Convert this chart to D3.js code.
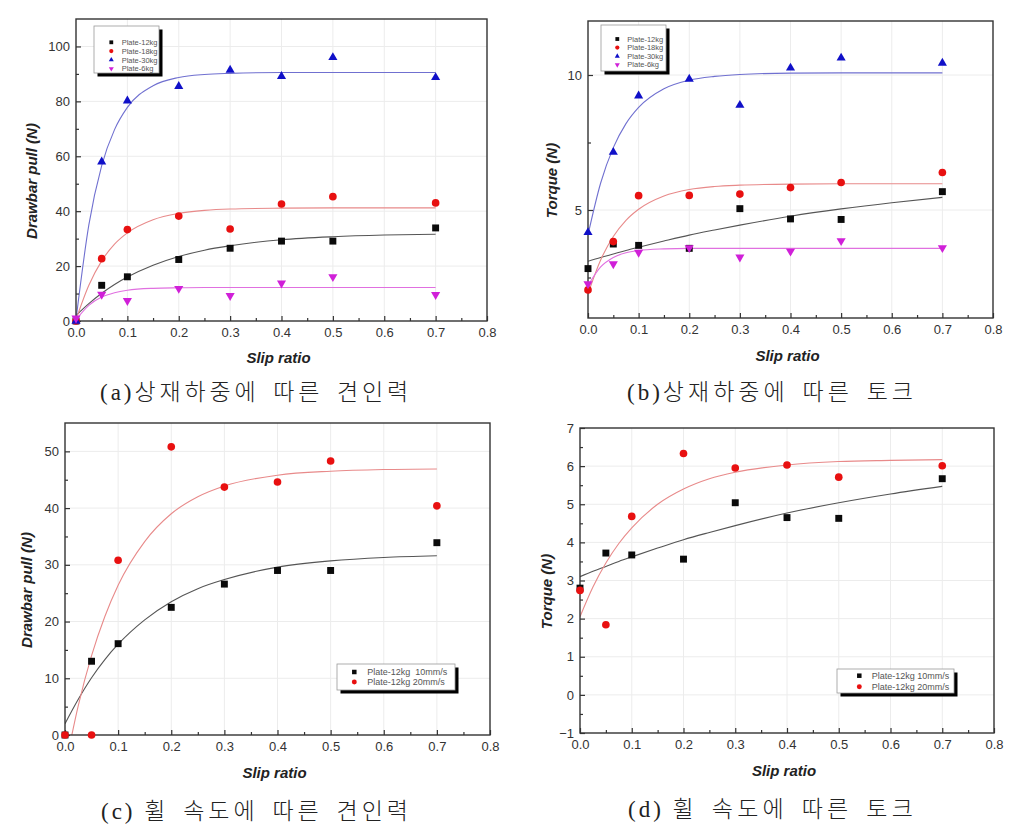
<!DOCTYPE html>
<html><head><meta charset="utf-8">
<script src="https://cdn.jsdelivr.net/npm/d3@7"></script>
<style>body{margin:0;background:#fff}</style>
</head><body><svg id="chart" width="1018" height="834"></svg>
<script>
// ---------- data ----------
const slip = [0, 0.05, 0.1, 0.2, 0.3, 0.4, 0.5, 0.7];
const fitSlip = [0, 0.025, 0.05, 0.075, 0.1, 0.15, 0.2, 0.25, 0.3, 0.4, 0.5, 0.6, 0.7];

const xMajorTicks = [0, 0.1, 0.2, 0.3, 0.4, 0.5, 0.6, 0.7, 0.8];
const xMinorTicks = [0.05, 0.15, 0.25, 0.35, 0.45, 0.55, 0.65, 0.75];

// (a) drawbar pull by load
const aPlate12 = [0, 13.0, 16.1, 22.4, 26.5, 29.1, 29.1, 33.9];
const aPlate18 = [0, 22.7, 33.3, 38.2, 33.5, 42.6, 45.3, 43.0];
const aPlate30 = [0, 58.0, 80.2, 85.5, 91.4, 89.1, 96.0, 88.7];
const aPlate6  = [1.0, 9.7, 7.4, 11.8, 9.2, 13.8, 16.1, 9.6];
const aFit12 = [2.0, 6.3, 10.1, 13.3, 16.0, 20.3, 23.5, 25.8, 27.4, 29.6, 30.7, 31.3, 31.6];
const aFit18 = [0.5, 13.0, 21.9, 28.0, 32.1, 36.9, 39.2, 40.3, 40.8, 41.1, 41.2, 41.2, 41.2];
const aFit30 = [0.5, 35.0, 56.6, 69.7, 77.8, 85.7, 88.7, 89.8, 90.2, 90.5, 90.5, 90.5, 90.5];
const aFit6  = [0.5, 5.7, 8.7, 10.3, 11.2, 11.9, 12.1, 12.2, 12.2, 12.2, 12.2, 12.2, 12.2];
const aYTicks = [0, 20, 40, 60, 80, 100];
const aYMinor = [10, 30, 50, 70, 90];

// (b) torque by load
const bPlate12 = [2.83, 3.74, 3.69, 3.58, 5.05, 4.67, 4.65, 5.68];
const bPlate18 = [2.04, 3.83, 5.53, 5.54, 5.59, 5.83, 6.02, 6.39];
const bPlate30 = [4.17, 7.14, 9.23, 9.85, 8.88, 10.26, 10.63, 10.44];
const bPlate6  = [2.26, 3.0, 3.43, 3.6, 3.25, 3.47, 3.86, 3.6];
const bFit12 = [3.1, 3.24, 3.37, 3.50, 3.62, 3.85, 4.07, 4.26, 4.44, 4.77, 5.04, 5.27, 5.47];
const bFit18 = [1.9, 3.15, 4.02, 4.62, 5.03, 5.52, 5.76, 5.87, 5.92, 5.96, 5.97, 5.97, 5.97];
const bFit30 = [4.08, 6.0, 7.31, 8.2, 8.8, 9.49, 9.81, 9.95, 10.02, 10.07, 10.08, 10.08, 10.08];
const bFit6  = [2.2, 2.89, 3.24, 3.42, 3.5, 3.56, 3.58, 3.58, 3.58, 3.58, 3.58, 3.58, 3.58];
const bYTicks = [5, 10];
const bYMinor = [2.5, 7.5];

// (c) drawbar pull by wheel speed
const cSpeed10 = [0, 13.0, 16.1, 22.5, 26.6, 29.0, 29.0, 33.9];
const cSpeed20 = [0, 0, 30.8, 50.8, 43.7, 44.6, 48.3, 40.4];
const cFit10 = [2.0, 6.3, 10.1, 13.3, 16.0, 20.3, 23.5, 25.8, 27.4, 29.6, 30.7, 31.3, 31.6];
const cFit20 = [-5.9, 5.2, 14.0, 20.9, 26.4, 34.1, 39.0, 42.0, 43.9, 45.8, 46.5, 46.8, 46.9];
const cYTicks = [0, 10, 20, 30, 40, 50];
const cYMinor = [5, 15, 25, 35, 45];

// (d) torque by wheel speed
const dSpeed10 = [2.8, 3.72, 3.67, 3.56, 5.04, 4.65, 4.63, 5.67];
const dSpeed20 = [2.74, 1.84, 4.68, 6.33, 5.95, 6.03, 5.71, 6.01];
const dFit10 = [3.1, 3.24, 3.37, 3.50, 3.62, 3.85, 4.07, 4.26, 4.44, 4.77, 5.04, 5.27, 5.47];
const dFit20 = [2.05, 2.83, 3.46, 3.97, 4.38, 5.0, 5.40, 5.67, 5.84, 6.03, 6.12, 6.15, 6.17];
const dYTicks = [-1, 0, 1, 2, 3, 4, 5, 6, 7];
const dYMinor = [-0.5, 0.5, 1.5, 2.5, 3.5, 4.5, 5.5, 6.5];

const loadNames = ["Plate-12kg", "Plate-18kg", "Plate-30kg", "Plate-6kg"];
const speedNames = ["Plate-12kg  10mm/s", "Plate-12kg 20mm/s"];
const captionPrefixes = ["(a)", "(b)", "(c) ", "(d) "];
const captionTexts = ["상재하중에 따른 견인력", "상재하중에 따른 토크", "휠 속도에 따른 견인력", "휠 속도에 따른 토크"];
const xTitle = "Slip ratio";
const yTitles = ["Drawbar pull (N)", "Torque (N)", "Drawbar pull (N)", "Torque (N)"];

// ---------- styles ----------
const ST = {
  black:   {fill: "#0a0a0a", line: "#555555", sym: "square"},
  red:     {fill: "#e81010", line: "#e88a8a", sym: "circle"},
  blue:    {fill: "#1010c8", line: "#7070d0", sym: "up"},
  magenta: {fill: "#d020d8", line: "#e070e0", sym: "down"}
};

const panels = [
  {left: 76, right: 487, top: 19, bottom: 321, yDomain: [0, 110], yTicks: aYTicks, yMinor: aYMinor,
   series: [[aPlate12, aFit12, ST.black], [aPlate18, aFit18, ST.red], [aPlate30, aFit30, ST.blue], [aPlate6, aFit6, ST.magenta]],
   names: loadNames, legend: {x: 94, y: 26, w: 65, h: 47, r0: 42.3, dr: 8.8, mx: 111.3, tx: 121.7, fs: 7.5, ms: 0.55},
   xTitleY: 363, yTitleX: 37, cap: {x1: 100, x2: 412, y: 400}},
  {left: 588, right: 993, top: 21, bottom: 318, yDomain: [1, 12], yTicks: bYTicks, yMinor: bYMinor,
   series: [[bPlate12, bFit12, ST.black], [bPlate18, bFit18, ST.red], [bPlate30, bFit30, ST.blue], [bPlate6, bFit6, ST.magenta]],
   names: loadNames, legend: {x: 601, y: 25, w: 65, h: 46, r0: 39, dr: 8.6, mx: 617.3, tx: 627.3, fs: 7.5, ms: 0.55},
   xTitleY: 361, yTitleX: 556.5, cap: {x1: 627, x2: 917, y: 400}},
  {left: 65, right: 490, top: 423, bottom: 735, yDomain: [0, 55], yTicks: cYTicks, yMinor: cYMinor,
   series: [[cSpeed10, cFit10, ST.black], [cSpeed20, cFit20, ST.red]],
   names: speedNames, legend: {x: 337, y: 664, w: 118, h: 26, r0: 672, dr: 10, mx: 354.3, tx: 367.3, fs: 9, ms: 0.65},
   xTitleY: 778, yTitleX: 32, cap: {x1: 101, x2: 412, y: 819}},
  {left: 580, right: 994, top: 428, bottom: 733, yDomain: [-1, 7], yTicks: dYTicks, yMinor: dYMinor,
   series: [[dSpeed10, dFit10, ST.black], [dSpeed20, dFit20, ST.red]],
   names: speedNames.map(s => s.replace("  ", " ")), legend: {x: 837, y: 669, w: 117, h: 24, r0: 675.7, dr: 11, mx: 859.3, tx: 871.7, fs: 9, ms: 0.65},
   xTitleY: 776, yTitleX: 552, cap: {x1: 628, x2: 917, y: 817}}
];

const svg = d3.select("#chart");
svg.append("rect").attr("width", 1018).attr("height", 834).attr("fill", "#fff");

function symbolPath(kind, scale) {
  const s = scale || 1;
  if (kind === "square") return d3.symbol(d3.symbolSquare, 48 * s * s)();
  if (kind === "circle") return d3.symbol(d3.symbolCircle, 46 * s * s)();
  return d3.symbol(d3.symbolTriangle, 36 * s * s)();
}
function symTransform(kind, px, py) {
  return kind === "down" ? `translate(${px},${py}) rotate(180)` : `translate(${px},${py})`;
}

panels.forEach((p, i) => {
  const x = d3.scaleLinear().domain([0, 0.8]).range([p.left, p.right]);
  const y = d3.scaleLinear().domain(p.yDomain).range([p.bottom, p.top]);
  const g = svg.append("g");

  // grid
  g.selectAll(".gx").data(xMajorTicks.slice(1, -1)).join("line")
    .attr("x1", d => x(d)).attr("x2", d => x(d)).attr("y1", p.top).attr("y2", p.bottom)
    .attr("stroke", "#ececec").attr("stroke-width", 1);
  g.selectAll(".gy").data(p.yTicks.filter(v => y(v) > p.top + 1 && y(v) < p.bottom - 1)).join("line")
    .attr("x1", p.left).attr("x2", p.right).attr("y1", d => y(d)).attr("y2", d => y(d))
    .attr("stroke", "#ececec").attr("stroke-width", 1);

  // clip
  const cid = "clip" + i;
  svg.append("clipPath").attr("id", cid).append("rect")
    .attr("x", p.left).attr("y", p.top).attr("width", p.right - p.left).attr("height", p.bottom - p.top);

  // fit curves
  const line = d3.line().x((d, k) => x(fitSlip[k])).y(d => y(d)).curve(d3.curveMonotoneX);
  p.series.forEach(([pts, fit, st]) => {
    g.append("path").attr("d", line(fit)).attr("fill", "none")
      .attr("stroke", st.line).attr("stroke-width", 1.1).attr("clip-path", `url(#${cid})`);
  });

  // axes
  const fontAttr = sel => sel.selectAll("text").attr("font-family", "'Liberation Sans', Arial, sans-serif")
    .attr("font-size", 13).attr("fill", "#333");
  const styleTicks = sel => { sel.select(".domain").remove(); sel.selectAll("line").attr("stroke", "#333").attr("stroke-width", 1.2); };

  const xb = g.append("g").attr("transform", `translate(0,${p.bottom})`)
    .call(d3.axisBottom(x).tickValues(xMajorTicks).tickSize(-5).tickPadding(7).tickFormat(d3.format(".1f")));
  styleTicks(xb); fontAttr(xb);
  const xm = g.append("g").attr("transform", `translate(0,${p.bottom})`)
    .call(d3.axisBottom(x).tickValues(xMinorTicks).tickSize(-3).tickFormat(""));
  styleTicks(xm);
  const yl = g.append("g").attr("transform", `translate(${p.left},0)`)
    .call(d3.axisLeft(y).tickValues(p.yTicks).tickSize(-5).tickPadding(6).tickFormat(d3.format("d")));
  styleTicks(yl); fontAttr(yl);
  const ym = g.append("g").attr("transform", `translate(${p.left},0)`)
    .call(d3.axisLeft(y).tickValues(p.yMinor).tickSize(-3).tickFormat(""));
  styleTicks(ym);

  // frame
  g.append("rect").attr("x", p.left).attr("y", p.top).attr("width", p.right - p.left).attr("height", p.bottom - p.top)
    .attr("fill", "none").attr("stroke", "#333").attr("stroke-width", 1.4);

  // points
  p.series.forEach(([pts, fit, st]) => {
    g.selectAll(null).data(pts).join("path")
      .attr("d", symbolPath(st.sym))
      .attr("transform", (d, k) => symTransform(st.sym, x(slip[k]), y(d)))
      .attr("fill", st.fill);
  });

  // legend
  const L = p.legend;
  g.append("rect").attr("x", L.x + 3.5).attr("y", L.y + 3.5).attr("width", L.w).attr("height", L.h).attr("fill", "#000");
  g.append("rect").attr("x", L.x).attr("y", L.y).attr("width", L.w).attr("height", L.h)
    .attr("fill", "#fff").attr("stroke", "#999").attr("stroke-width", 0.8);
  p.series.forEach(([pts, fit, st], k) => {
    const yy = L.r0 + k * L.dr;
    g.append("path").attr("d", symbolPath(st.sym, L.ms)).attr("transform", symTransform(st.sym, L.mx, yy)).attr("fill", st.fill);
    g.append("text").attr("x", L.tx).attr("y", yy).attr("dy", "0.35em")
      .attr("font-family", "'Liberation Sans', Arial, sans-serif").attr("font-size", L.fs).attr("fill", "#555")
      .attr("xml:space", "preserve").style("white-space", "pre")
      .text(p.names[k]);
  });

  // axis titles
  g.append("text").attr("x", (p.left + p.right) / 2 - 3).attr("y", p.xTitleY).attr("text-anchor", "middle")
    .attr("font-family", "'Liberation Sans', Arial, sans-serif").attr("font-size", 15)
    .attr("font-weight", "bold").attr("font-style", "italic").attr("fill", "#222").text(xTitle);
  g.append("text").attr("transform", `translate(${p.yTitleX},${(p.top + p.bottom) / 2 + 11}) rotate(-90)`)
    .attr("text-anchor", "middle")
    .attr("font-family", "'Liberation Sans', Arial, sans-serif").attr("font-size", 15)
    .attr("font-weight", "bold").attr("font-style", "italic").attr("fill", "#222").text(yTitles[i]);

  // caption
  const cap = svg.append("text").attr("x", p.cap.x1).attr("y", p.cap.y)
    .attr("font-family", "'Liberation Serif', 'Noto Sans CJK KR', serif").attr("font-size", 23)
    .attr("font-weight", 300).attr("fill", "#222")
    .attr("xml:space", "preserve").style("white-space", "pre");
  cap.append("tspan").attr("letter-spacing", 3).text(captionPrefixes[i]);
  const body = cap.append("tspan").attr("letter-spacing", 2).attr("word-spacing", 4).text(captionTexts[i]);
  // fine-tune letter spacing so the caption spans the same width as in the source
  const target = p.cap.x2 - p.cap.x1;
  const w = cap.node().getBBox().width;
  const n = captionTexts[i].length;
  const ls = Math.max(0, Math.min(12, 2 + (target - w) / n));
  body.attr("letter-spacing", ls);
});
</script>
</body></html>
